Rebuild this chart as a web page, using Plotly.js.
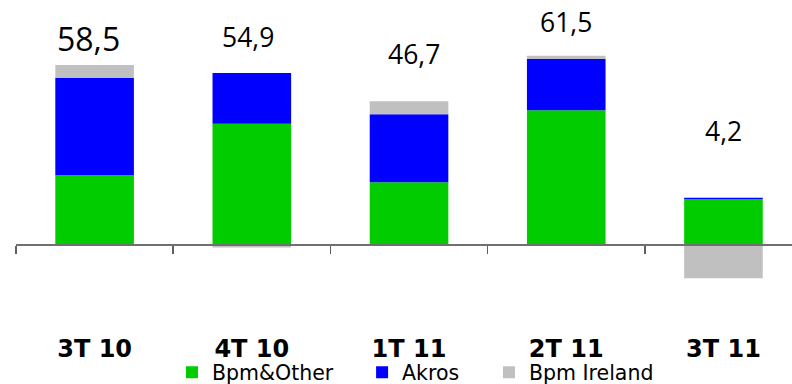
<!DOCTYPE html>
<html>
<head>
<meta charset="utf-8">
<script src="https://cdn.plot.ly/plotly-3.0.1.min.js"></script>
<style>
  html, body { margin: 0; padding: 0; background: #ffffff; }
  #chart { width: 792px; height: 384px; }
</style>
</head>
<body>
<div id="chart"></div>
<script>
// Quarterly contribution by business line (stacked, negatives below zero)
const quarters   = ['3T 10', '4T 10', '1T 11', '2T 11', '3T 11'];
const bpmOther   = [22.6, 39.3, 20.3, 43.7, 14.8];
const akros      = [31.6, 16.6, 22.1, 16.7, 0.4];
const bpmIreland = [4.3, -1.0, 4.3, 1.1, -11.0];

const seriesNames  = ['Bpm&Other', 'Akros', 'Bpm Ireland'];
const seriesColors = ['#00cc00', '#0000ff', '#c0c0c0'];
const seriesValues = [bpmOther, akros, bpmIreland];

// Total label placement tweaks (pixels)
const labelDx   = [-6, -4, 5, 0, 0];
const labelDy   = [2.5, 15.5, 27, 13.5, 47];
const labelSize = [32, 26.5, 26.5, 26.5, 26.5];

const yMin = -18.08, yMax = 79.64;

const legendIds = ['legend', 'legend2', 'legend3'];
const legendX   = [0.201, 0.446, 0.6095];

const traces = seriesNames.map((name, i) => ({
  type: 'bar',
  name: name,
  x: quarters,
  y: seriesValues[i],
  marker: { color: seriesColors[i], line: { width: 0 } },
  legend: legendIds[i],
  hoverinfo: 'skip'
}));

const totals = quarters.map((q, k) => seriesValues.reduce((s, arr) => s + arr[k], 0));
const posTops = quarters.map((q, k) => seriesValues.reduce((s, arr) => s + Math.max(arr[k], 0), 0));

const annotations = quarters.map((q, k) => ({
  x: q,
  y: posTops[k],
  xref: 'x', yref: 'y',
  text: totals[k].toFixed(1).replace('.', ','),
  showarrow: false,
  xanchor: 'center',
  yanchor: 'bottom',
  xshift: labelDx[k],
  yshift: labelDy[k],
  font: { family: 'Open Sans', size: labelSize[k], color: '#000000' }
}));

const legendFont = { family: 'DejaVu Sans', size: 20.5, color: '#000000' };
const layout = {
  width: 792,
  height: 384,
  margin: { l: 16, r: 0, t: 0, b: 84, pad: 0, autoexpand: false },
  paper_bgcolor: '#ffffff',
  plot_bgcolor: '#ffffff',
  barmode: 'relative',
  bargap: 0.5,
  showlegend: true,
  xaxis: {
    type: 'category',
    range: [-0.5, 4.436],
    anchor: 'free',
    position: (0 - yMin) / (yMax - yMin),
    showline: true,
    linecolor: '#707070',
    linewidth: 1.5,
    tickson: 'boundaries',
    ticks: 'outside',
    ticklen: 8,
    tickwidth: 1.5,
    tickcolor: '#606060',
    showgrid: false,
    automargin: false,
    ticklabelstandoff: 82,
    tickfont: { family: 'DejaVu Sans', size: 24, weight: 'bold', color: '#000000' },
    fixedrange: true
  },
  yaxis: {
    range: [yMin, yMax],
    visible: false,
    showgrid: false,
    zeroline: false,
    automargin: false,
    fixedrange: true
  },
  annotations: annotations
};
legendIds.forEach((id, i) => {
  layout[id] = {
    orientation: 'h',
    x: legendX[i], xanchor: 'left',
    yref: 'container',
    y: 0.0825, yanchor: 'top',
    font: legendFont,
    bgcolor: 'rgba(0,0,0,0)',
    borderwidth: 0,
    itemclick: false,
    itemdoubleclick: false
  };
});

Plotly.newPlot('chart', traces, layout, { displayModeBar: false, staticPlot: true });
</script>
</body>
</html>
